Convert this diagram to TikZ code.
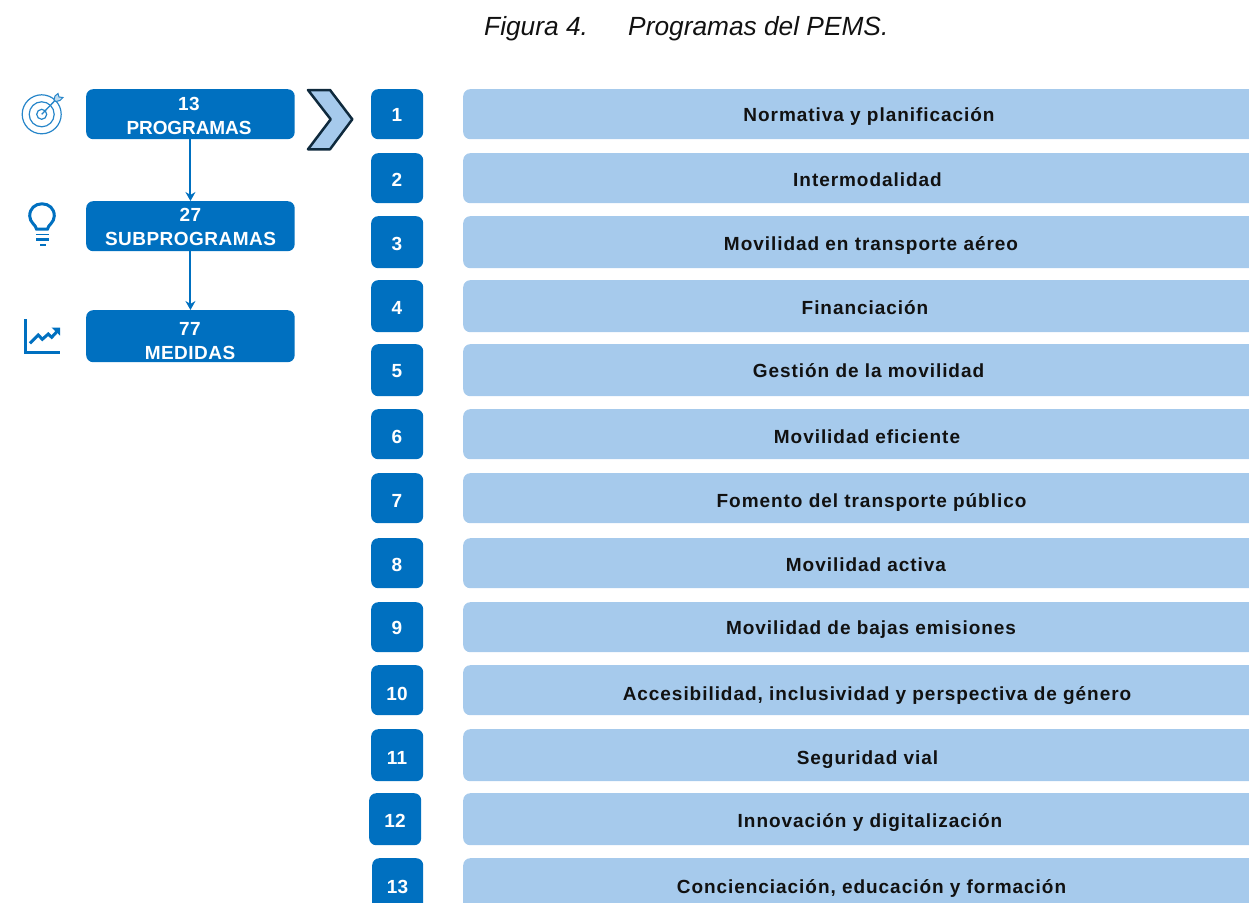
\documentclass[tikz,border=0pt]{standalone}
\usepackage{fontspec}
\setmainfont{Liberation Sans}
\newfontface\lblfont[LetterSpace=5]{Liberation Sans Bold}
\newfontface\boxfont[LetterSpace=2.5]{Liberation Sans Bold}
\newfontface\boxfontb[LetterSpace=-0.5]{Liberation Sans Bold}
\newfontface\numfont[LetterSpace=1.5]{Liberation Sans Bold}
\usetikzlibrary{arrows.meta}
\definecolor{dkblue}{HTML}{0070C0}
\definecolor{ltblue}{HTML}{A6CAEC}
\definecolor{chevline}{HTML}{0F2A3D}
\definecolor{captxt}{HTML}{111111}
\tikzset{
  x=1pt,y=-1pt,
  darkbox/.style={draw=none,fill=dkblue,rounded corners=7pt,inner sep=0pt,anchor=north west},
  lightbar/.style={draw=none,fill=ltblue,rounded corners=7pt,inner sep=0pt,anchor=north west},
  barlabel/.style={font=\fontsize{19}{21}\lblfont,text=captxt,inner sep=0pt,anchor=base},
  numlabel/.style={font=\fontsize{19}{21}\numfont,text=white,inner sep=0pt,anchor=base},
  boxlabel/.style={font=\fontsize{19}{24}\boxfont\selectfont,text=white,align=center,inner sep=0pt},
  captext/.style={font=\fontsize{26.3}{30}\selectfont\itshape,text=captxt,inner sep=0pt,anchor=base west},
  flow/.style={draw=dkblue,line width=2pt,-{Stealth[length=9pt,width=10pt]}},
  icon/.style={draw=dkblue,fill=none}
}
\newcommand{\rowitem}[8]{%
  \node[darkbox,minimum width=#3pt,minimum height=#5pt] (n#1) at (#2,#4) {};
  \node[lightbar,minimum width=812pt,minimum height=#5pt] (b#1) at (463,#4) {};
  \node[numlabel] (t#1) at (#2+#3/2,#6+6.8) {#1};
  \node[barlabel] (l#1) at (#7,#6+6.8) {#8};
}
\begin{document}
\begin{tikzpicture}
\useasboundingbox (0,0) rectangle (1249,902);
\clip (0,0) rectangle (1249,902);
\node[captext] (cap1) at (484,35) {Figura 4.};
\node[captext] (cap2) at (628,35) {Programas del PEMS.};
\rowitem{1}{371}{52}{89}{50}{115}{869}{Normativa y planificación}
\rowitem{2}{371}{52}{153}{50}{180}{867.5}{Intermodalidad}
\rowitem{3}{371}{52}{216}{52}{244}{871}{Movilidad en transporte aéreo}
\rowitem{4}{371}{52}{280}{52}{308}{865}{Financiación}
\rowitem{5}{371}{52}{344}{52}{371}{868.5}{Gestión de la movilidad}
\rowitem{6}{371}{52}{409}{50}{437}{867}{Movilidad eficiente}
\rowitem{7}{371}{52}{473}{50}{501}{871.5}{Fomento del transporte público}
\rowitem{8}{371}{52}{538}{50}{565}{866}{Movilidad activa}
\rowitem{9}{371}{52}{602}{50}{628}{871}{Movilidad de bajas emisiones}
\rowitem{10}{371}{52}{665}{50}{694}{877}{Accesibilidad, inclusividad y perspectiva de género}
\rowitem{11}{371}{52}{729}{52}{758}{867.5}{Seguridad vial}
\rowitem{12}{369}{52}{793}{52}{821}{870}{Innovación y digitalización}
\rowitem{13}{372}{51}{858}{52}{887}{871.5}{Concienciación, educación y formación}
% left boxes
\node[darkbox,minimum width=208.5pt,minimum height=50pt] (p) at (86,89) {};
\node[darkbox,minimum width=208.5pt,minimum height=50pt] (s) at (86,201) {};
\node[darkbox,minimum width=208.5pt,minimum height=52pt] (m) at (86,310) {};
\node[boxlabel] (pt) at (189,115.5) {13\\{\boxfontb PROGRAMAS}};
\node[boxlabel] (st) at (190.5,227) {27\\SUBPROGRAMAS};
\node[boxlabel] (mt) at (190,341) {77\\MEDIDAS};
\draw[flow] (p.south) -- (s.north);
\draw[flow] (s.south) -- (m.north);
% chevron
\draw[draw=chevline,fill=ltblue,line width=2.5pt,line join=round]
  (308,90) -- (330,90) -- (352.3,119.3) -- (330,149.3) -- (308,149.3) -- (330.7,119.3) -- cycle;
% target icon
\begin{scope}[icon,line width=1.2pt,draw=dkblue!85]
  \draw (41.7,114.3) circle (19.5);
  \draw (41.7,114.3) circle (12.5);
  \draw (41.7,114.3) circle (5);
  \draw[line width=1.3pt] (41.7,114.3) -- (56,99.5);
  \draw[fill=dkblue!25,line width=1pt] (54,100) -- (55,96) -- (58,93.5) -- (59,97) -- (63,97.5) -- (60,100.5) -- (56,101.5) -- cycle;
\end{scope}
% bulb icon
\begin{scope}[icon,line width=3pt]
  \draw (36.5,229) .. controls (36,225) and (29.7,222.5) .. (29.7,216)
     .. controls (29.7,208.5) and (35,203.8) .. (42,203.8)
     .. controls (49,203.8) and (54.3,208.5) .. (54.3,216)
     .. controls (54.3,222.5) and (48,225) .. (47.5,229) -- cycle;
  \draw[line width=1.6pt] (36,234.5) -- (49,234.5);
  \draw[line width=3pt] (36,239.5) -- (49,239.5);
  \draw[line width=2pt] (40,245) -- (45.5,245);
\end{scope}
% chart icon
\begin{scope}[icon]
  \draw[line width=3pt] (25.7,319) -- (25.7,352) -- (60,352);
  \draw[line width=3pt] (30,343.3) -- (38.3,335) -- (42.3,339.3) -- (48.3,334) -- (51.7,337.3) -- (57,331.5);
  \fill[dkblue] (51.7,327.7) -- (60,327.7) -- (60,335.5) -- cycle;
\end{scope}
\end{tikzpicture}
\end{document}
